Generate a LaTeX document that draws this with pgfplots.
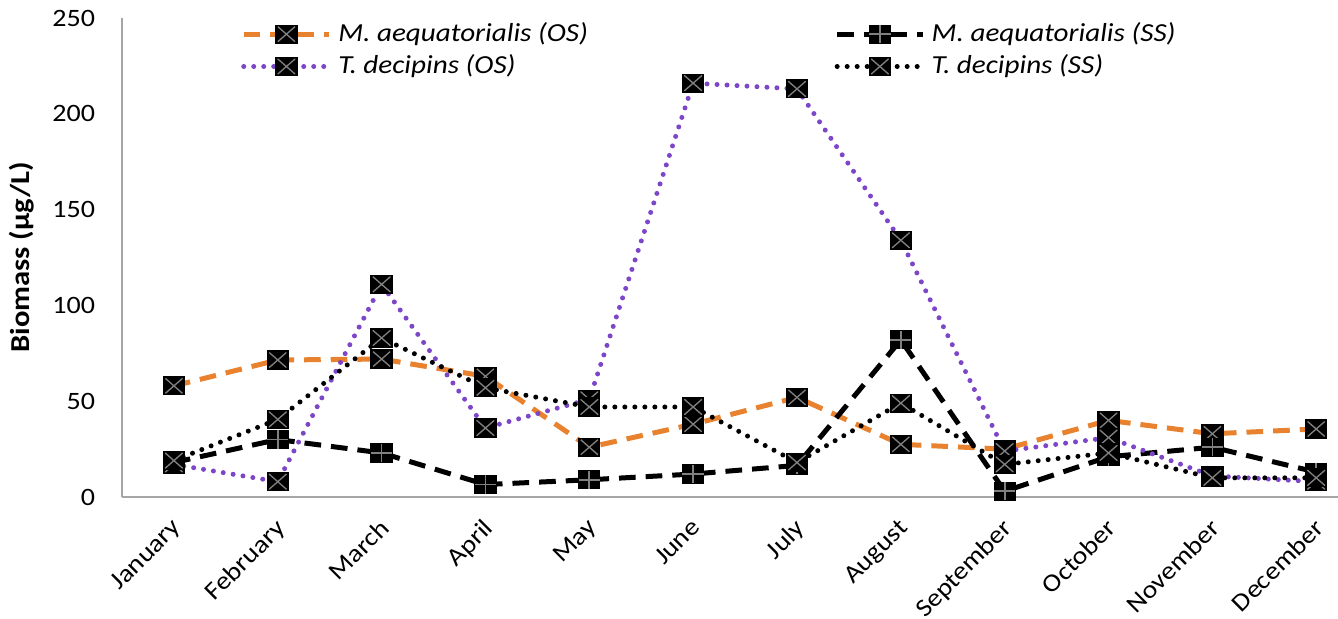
\documentclass[border=0pt]{standalone}
\usepackage{fontspec}
\setmainfont{Carlito}[FakeStretch=1.12]
\usepackage{pgfplots}
\pgfplotsset{compat=1.18}
\definecolor{mos}{RGB}{232,130,46}
\definecolor{tos}{RGB}{125,70,200}

% black square with grey cross / plus, like the Excel markers
\pgfdeclareplotmark{sqx}{%
  \pgfpathrectangle{\pgfpoint{-\pgfplotmarksize}{-0.85\pgfplotmarksize}}{\pgfpoint{2\pgfplotmarksize}{1.7\pgfplotmarksize}}%
  \pgfsetfillcolor{black}\pgfsetstrokecolor{black}\pgfsetlinewidth{0.3pt}%
  \pgfusepath{fill,stroke}%
  \pgfsetstrokecolor{gray}\pgfsetlinewidth{0.4pt}%
  \pgfpathmoveto{\pgfpoint{-0.8\pgfplotmarksize}{-0.7\pgfplotmarksize}}%
  \pgfpathlineto{\pgfpoint{0.8\pgfplotmarksize}{0.7\pgfplotmarksize}}%
  \pgfpathmoveto{\pgfpoint{-0.8\pgfplotmarksize}{0.7\pgfplotmarksize}}%
  \pgfpathlineto{\pgfpoint{0.8\pgfplotmarksize}{-0.7\pgfplotmarksize}}%
  \pgfusepath{stroke}}
\pgfdeclareplotmark{sqp}{%
  \pgfpathrectangle{\pgfpoint{-\pgfplotmarksize}{-0.85\pgfplotmarksize}}{\pgfpoint{2\pgfplotmarksize}{1.7\pgfplotmarksize}}%
  \pgfsetfillcolor{black}\pgfsetstrokecolor{black}\pgfsetlinewidth{0.3pt}%
  \pgfusepath{fill,stroke}%
  \pgfsetstrokecolor{gray}\pgfsetlinewidth{0.5pt}%
  \pgfpathmoveto{\pgfpoint{0pt}{-0.85\pgfplotmarksize}}%
  \pgfpathlineto{\pgfpoint{0pt}{0.85\pgfplotmarksize}}%
  \pgfpathmoveto{\pgfpoint{-\pgfplotmarksize}{0pt}}%
  \pgfpathlineto{\pgfpoint{\pgfplotmarksize}{0pt}}%
  \pgfusepath{stroke}}

\begin{document}
\begin{tikzpicture}
\begin{axis}[
    at={(0,0)}, anchor=south west,
    scale only axis,
    width=364.8pt, height=143.7pt,
    xmin=-0.5, xmax=11.21,
    ymin=0, ymax=250,
    ytick={0,50,...,250},
    xtick={0,...,11},
    xticklabels={January,February,March,April,May,June,July,August,September,October,November,December},
    x tick label style={xshift=-1pt, yshift=-3.7pt, rotate=45, anchor=north east, font=\fontsize{7.5}{9}\selectfont, inner sep=1pt},
    y tick label style={font=\fontsize{7.5}{9}\selectfont, xshift=-4pt},
    /pgf/number format/assume math mode=true,
    major tick length=0pt,
    axis x line*=bottom, axis y line*=left,
    axis line style={-, draw=gray!70, line width=0.6pt},
    ylabel={\bfseries Biomass (µg/L)},
    ylabel style={font=\fontsize{8.2}{9}\selectfont, yshift=-2pt},
    line width=1.5pt,
    mark size=3.2pt,
    legend style={at={(0.485,1.0)}, anchor=north, yshift=3.5pt, draw=none, fill=none,
        font=\fontsize{7.8}{9}\selectfont\itshape, row sep=-1.5pt,
        /tikz/every even column/.append style={column sep=72pt}},
    legend columns=2,
    legend cell align=left,
    legend image code/.code={\draw[mark repeat=2, mark phase=2, #1] plot coordinates {(0cm,0cm) (0.45cm,0cm) (0.9cm,0cm)};},
]
\addplot[color=mos, dash pattern=on 5pt off 3pt, mark=sqx, mark options={solid}] coordinates {
(0,58) (1,71.5) (2,72) (3,63) (4,26) (5,38) (6,52) (7,27.5) (8,25) (9,40) (10,33) (11,35.5)};
\addlegendentry{M. aequatorialis (OS)}
\addplot[color=black, dash pattern=on 5pt off 3pt, mark=sqp, mark options={solid}] coordinates {
(0,18) (1,30) (2,23) (3,6.5) (4,9) (5,12) (6,16.5) (7,82) (8,3) (9,21) (10,26) (11,13)};
\addlegendentry{M. aequatorialis (SS)}
\addplot[color=tos, line cap=round, dash pattern=on 0pt off 3pt, mark=sqx, mark options={solid}] coordinates {
(0,17) (1,8) (2,111) (3,36) (4,51) (5,216) (6,213) (7,134) (8,24) (9,31) (10,11) (11,8)};
\addlegendentry{T. decipins (OS)}
\addplot[color=black, line cap=round, dash pattern=on 0pt off 3pt, mark=sqx, mark options={solid}] coordinates {
(0,19) (1,40.5) (2,83) (3,57) (4,47) (5,47) (6,18) (7,49) (8,17) (9,23) (10,10) (11,10)};
\addlegendentry{T. decipins (SS)}
\end{axis}
\pgfresetboundingbox
\useasboundingbox (-36.6pt,-36.3pt) rectangle (364.8pt,149.1pt);
\end{tikzpicture}
\end{document}
